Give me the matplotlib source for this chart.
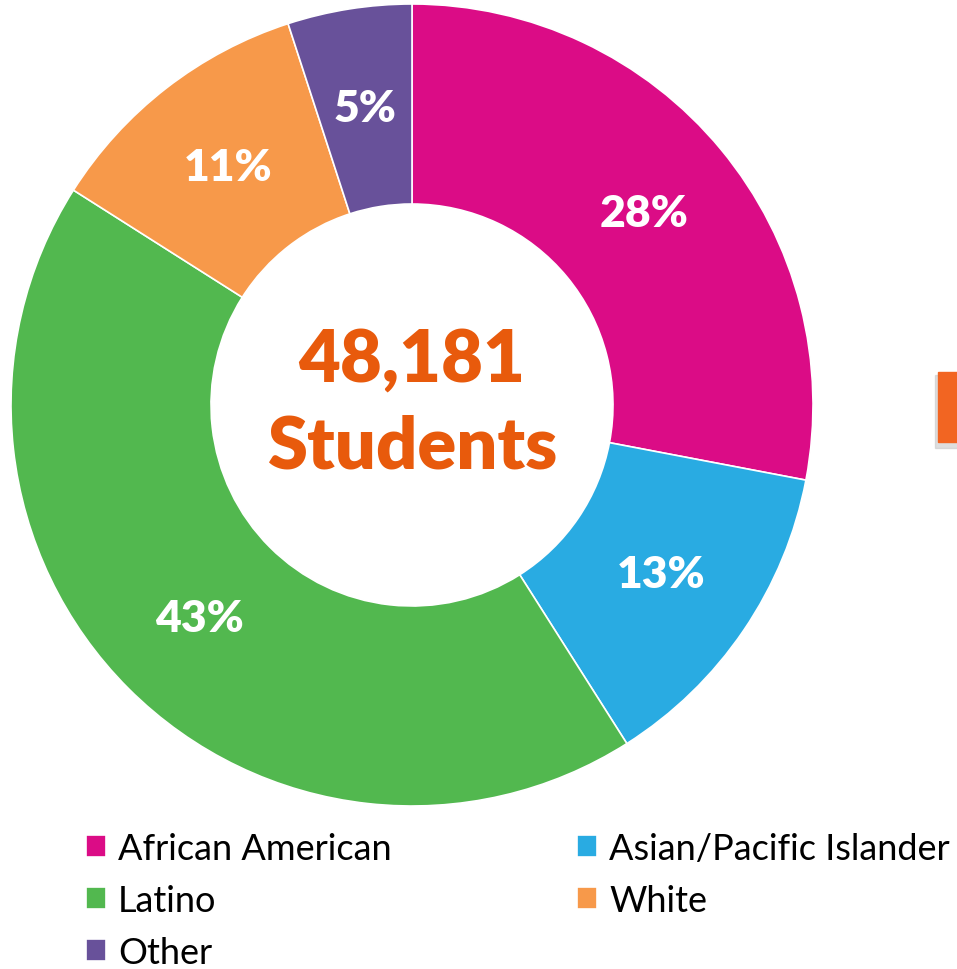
import matplotlib.pyplot as plt
import matplotlib.patches as mpatches

# Student enrollment by race/ethnicity
categories = ['African American', 'Asian/Pacific Islander', 'Latino', 'White', 'Other']
shares = [28, 13, 43, 11, 5]
colors = ['#DB0C86', '#29ABE2', '#52B84F', '#F7994A', '#68519A']
total_students = '48,181'

plt.rcParams['font.family'] = ['Lato', 'DejaVu Sans']

W, H = 957, 970
fig = plt.figure(figsize=(W / 100, H / 100), dpi=100)
ax = fig.add_axes([0, 0, 1, 1])

cx, cy, r = 412, H - 406, 401
wedges, texts, autotexts = ax.pie(
    shares, colors=colors, startangle=90, counterclock=False,
    center=(cx, cy), radius=r, autopct='%d%%', pctdistance=0.75,
    wedgeprops=dict(width=200, edgecolor='white', linewidth=1.2),
    textprops=dict(color='white', fontsize=32, fontweight='heavy'))
ax.set_xlim(0, W)
ax.set_ylim(0, H)
ax.set_aspect('equal')
ax.axis('off')

ax.text(cx, cy + 2, total_students + '\nStudents', ha='center', va='center',
        color='#E85A0C', fontsize=52, fontweight='heavy', linespacing=1.4)

# legend: column-major order so rows read AA/Asian, Latino/White, Other
order = [0, 2, 4, 1, 3]
fig.legend([wedges[i] for i in order], [categories[i] for i in order],
           ncol=2, loc='upper left', bbox_to_anchor=(86 / W, 1 - 833 / H),
           frameon=False, fontsize=26, handlelength=0.55, handleheight=0.55,
           handletextpad=0.33, labelspacing=0.52, columnspacing=5.15,
           borderpad=0, borderaxespad=0)

# cut-off orange box at the right edge with a soft shadow
fig.patches.append(mpatches.Rectangle((935 / W, 1 - 449 / H), 30 / W, 73 / H,
                                      transform=fig.transFigure, color='#C8C8C8', alpha=0.6))
fig.patches.append(mpatches.Rectangle((938 / W, 1 - 443 / H), 30 / W, 70 / H,
                                      transform=fig.transFigure, color='#F26522'))

fig.savefig('out.png', dpi=100)
